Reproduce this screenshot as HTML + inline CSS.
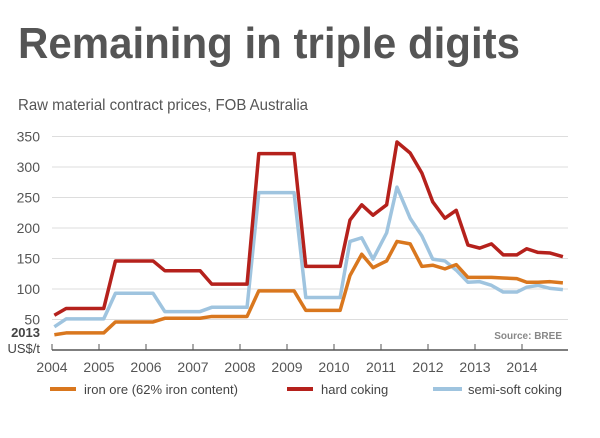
<!DOCTYPE html>
<html><head><meta charset="utf-8"><style>
body{margin:0;background:#fff;width:600px;height:433px;overflow:hidden;font-family:"Liberation Sans",sans-serif}
</style></head><body>
<svg width="600" height="433" font-family="Liberation Sans, sans-serif">
<text x="18" y="58" font-size="44" font-weight="bold" fill="#555" textLength="502" lengthAdjust="spacingAndGlyphs">Remaining in triple digits</text>
<text x="18" y="110" font-size="16" fill="#555" textLength="290" lengthAdjust="spacingAndGlyphs">Raw material contract prices, FOB Australia</text>
<g id="grid"></g>
<g id="axes"></g>
<g id="series"></g>
<text x="40" y="337" font-size="13" font-weight="bold" fill="#444" text-anchor="end">2013</text>
<text x="40" y="353" font-size="13" fill="#444" text-anchor="end">US$/t</text>
<text x="562" y="339" font-size="10" font-weight="bold" fill="#888" text-anchor="end">Source: BREE</text>
<g>
<line x1="50" y1="389" x2="76" y2="389" stroke="#d9771e" stroke-width="4"/>
<text x="84" y="394" font-size="13" fill="#444">iron ore (62% iron content)</text>
<line x1="287" y1="389" x2="313" y2="389" stroke="#b5211c" stroke-width="4"/>
<text x="321" y="394" font-size="13" fill="#444">hard coking</text>
<line x1="433" y1="389" x2="462" y2="389" stroke="#9fc4df" stroke-width="4"/>
<text x="468" y="394" font-size="13" fill="#444">semi-soft coking</text>
</g>
</svg>
<script>
const yTicks=[50,100,150,200,250,300,350];
const xTicks=[2004,2005,2006,2007,2008,2009,2010,2011,2012,2013,2014];
const hardX=[2004.05,2004.3,2005.1,2005.35,2006.15,2006.4,2007.15,2007.4,2008.15,2008.4,2009.15,2009.4,2010.13,2010.34,2010.59,2010.83,2011.12,2011.34,2011.62,2011.87,2012.1,2012.36,2012.6,2012.85,2013.1,2013.35,2013.6,2013.89,2014.1,2014.34,2014.6,2014.87];
const hardY=[57,68,68,146,146,130,130,108,108,322,322,137,137,213,238,221,238,341,323,290,243,216,229,172,167,174,156,156,166,160,159,153];
const semiX=hardX;
const semiY=[38,51,51,93,93,63,63,70,70,258,258,86,86,178,184,149,192,267,216,187,149,146,131,111,112,106,95,95,103,106,101,99];
const ironX=hardX;
const ironY=[25,28,28,46,46,52,52,55,55,97,97,65,65,122,157,135,146,178,174,137,139,133,140,119,119,119,118,117,111,111,112,110];
const NS='http://www.w3.org/2000/svg';
const xS=v=>52+(v-2004)*47;
const yS=v=>350-v*0.61;
function mk(tag,attrs,parent){const e=document.createElementNS(NS,tag);for(const k in attrs)e.setAttribute(k,attrs[k]);document.getElementById(parent).appendChild(e);return e;}
yTicks.forEach(t=>{
 const g=mk('line',{x1:52,x2:568,y1:yS(t),y2:yS(t),stroke:'#ddd','stroke-width':1},'grid');
 
 
 const l=mk('text',{x:40,y:yS(t)+5,'font-size':14,fill:'#555','text-anchor':'end'},'axes');
 l.textContent=t;
 
 
});
const ax=mk('line',{x1:52,x2:568,y1:350,y2:350,stroke:'#555','stroke-width':1.5},'axes');


xTicks.forEach(t=>{
 mk('line',{x1:xS(t),x2:xS(t),y1:350,y2:344,stroke:'#555'},'axes');
 const l=mk('text',{x:xS(t),y:372,'font-size':14,fill:'#555','text-anchor':'middle'},'axes');
 l.textContent=t;
 
 
});
function line(xs,ys,color,name){
 const p=mk('polyline',{points:xs.map((x,i)=>xS(x)+','+yS(ys[i])).join(' '),fill:'none',stroke:color,'stroke-width':3.5,'stroke-linejoin':'round'},'series');
 
 
}
line(semiX,semiY,'#9fc4df','semi-soft-coking-line');
line(ironX,ironY,'#d9771e','iron-ore-line');
line(hardX,hardY,'#b5211c','hard-coking-line');
</script>
</body></html>
